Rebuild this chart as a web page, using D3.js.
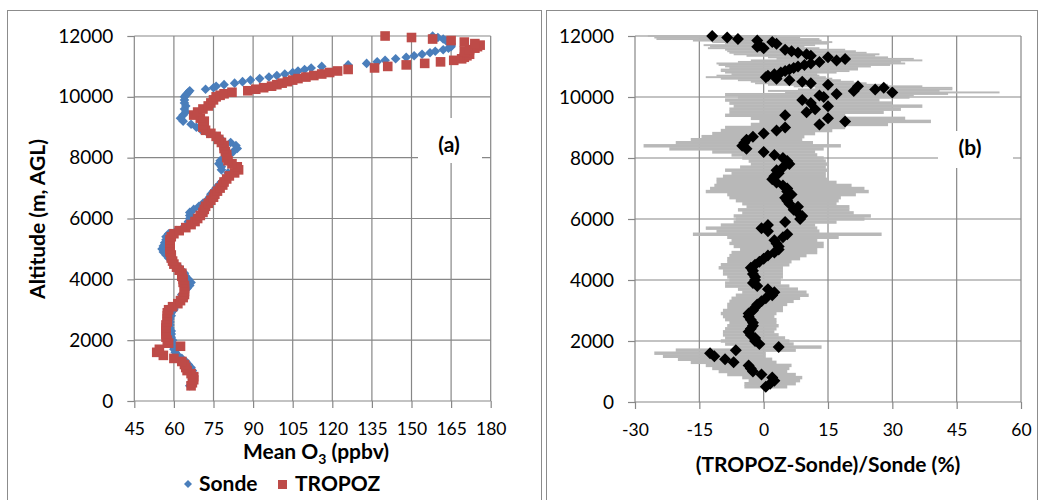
<!DOCTYPE html>
<html>
<head>
<meta charset="utf-8">
<script src="https://cdn.jsdelivr.net/npm/d3@7"></script>
<style>
  html, body { margin: 0; padding: 0; background: #fff; }
  svg { display: block; }
  text { font-family: Lato, "Open Sans", sans-serif; fill: #000; }
</style>
</head>
<body>
<svg id="chart" width="1044" height="500"></svg>
<script>
// Altitude levels (m, AGL) shared by all profiles
const altitude = [
  500, 600, 700, 800, 900, 1000, 1100, 1200, 1300, 1400,
  1500, 1600, 1700, 1800, 1900, 2000, 2100, 2200, 2300, 2400,
  2500, 2600, 2700, 2800, 2900, 3000, 3100, 3200, 3300, 3400,
  3500, 3600, 3700, 3800, 3900, 4000, 4100, 4200, 4300, 4400,
  4500, 4600, 4700, 4800, 4900, 5000, 5100, 5200, 5300, 5400,
  5500, 5600, 5700, 5800, 5900, 6000, 6100, 6200, 6300, 6400,
  6500, 6600, 6700, 6800, 6900, 7000, 7100, 7200, 7300, 7400,
  7500, 7600, 7700, 7800, 7900, 8000, 8100, 8200, 8300, 8400,
  8500, 8600, 8700, 8800, 8900, 9000, 9100, 9200, 9300, 9400,
  9500, 9600, 9700, 9800, 9900, 10000,
  10050, 10100, 10150, 10200, 10250, 10300, 10350, 10400, 10450, 10500,
  10550, 10600, 10650, 10700, 10750, 10800, 10850, 10900, 10950, 11000,
  11050, 11100, 11150, 11200, 11250, 11300, 11350, 11400, 11450, 11500,
  11550, 11600, 11650, 11700, 11750, 11800, 11850, 11900, 11950, 12000
];

// Mean ozonesonde O3 (ppbv)
const sondeO3 = [
  66, 66.5, 67, 67.5, 67.5, 67, 66.5, 65.5, 64.5, 63,
  61.5, 60.5, 60, 59.5, 59.5, 59.5, 59, 59, 59, 58.5,
  58.5, 58.5, 58.5, 59, 59, 60, 60.5, 61.5, 62, 62.5,
  63, 64, 65, 66, 66.5, 65.5, 64.5, 64, 63, 62,
  60.5, 59, 58, 57, 56, 55.5, 56, 56.5, 57, 57,
  58, 61, 63.5, 65, 65.5, 66, 66, 66, 67.5, 69.5,
  71, 72.5, 73.5, 74, 75, 76, 77, 78, 80, 81,
  80.5, 78, 78, 77, 77.5, 79, 81, 82.5, 84, 83.5,
  81.5, 78, 76, 73, 70.5, 68.5, 66.5, 63.5, 62.5, 63.5,
  64.5, 64, 64.5, 64, 64, 64,
  64.5, 65, 65.5, 66, 72, 75, 76, 79, 83, 86,
  89, 92.5, 96, 99, 102, 105, 107, 109.5, 112, 116,
  126, 133, 137, 140, 144, 148, 151, 154, 157, 159,
  162, 164, 165, 165, 165, 164, 163, 162, 160, 158
];

// Mean TROPOZ lidar O3 (ppbv)
const tropozO3 = [
  66.5, 67, 67.5, 67.5, 66.5, 65, 64.5, 64, 63, 60,
  56, 53.5, 54.5, 62.5, 58, 57.5, 57, 57, 57, 57,
  57, 57.5, 57.5, 57.5, 57.5, 58, 59.5, 61.5, 62.5, 63.5,
  64, 64, 64, 64, 63.5, 63.5, 63, 63, 62, 61,
  60, 59.5, 59, 59, 58.5, 58.5, 58.5, 58.5, 58.5, 59,
  60, 62, 64.5, 66.5, 68, 69, 70, 71, 71.5, 72,
  73, 74, 75, 75.5, 76.5, 77.5, 78.5, 79, 80, 81,
  83, 84.5, 84, 82, 80.5, 80, 80, 79.5, 79, 79,
  78, 77, 76, 74, 72, 71, 71, 71.5, 70, 67.5,
  69, 71, 73, 74, 75, 76,
  77.5, 79, 82, 88, 91, 94, 97, 99, 101, 103,
  105, 107, 110, 113, 116, 119, 122, 126, 136, 141,
  148, 155, 161, 166, 169, 170, 171, 172, 171, 170,
  172, 174, 175, 176, 174, 170, 165, 158, 150, 140
];

// Relative difference (TROPOZ-Sonde)/Sonde (%) and its spread (%)
const diffPct = [
  0.5, 1.5, 2.5, 2, -0.5, -2.5, -3, -3.5, -7, -9,
  -11.5, -12.5, -6.5, 3.5, -1, -2, -2, -3, -3.5, -3,
  -2.5, -2.5, -3, -3.5, -3.5, -2.5, -2, -1.5, -0.5, 0.5,
  2, 2.5, 1, -1.5, -2.5, -2, -2, -2.5, -2.5, -3,
  -2, -1, 0, 1, 2.5, 3.5, 3.5, 3, 2.5, 4.5,
  5.5, 1, -0.5, 1, 5, 8.5, 9, 8, 7, 8,
  6, 5.5, 5, 6.5, 5.5, 5.5, 4.5, 3, 2, 2.5,
  3.5, 3, 4.5, 6, 5.5, 4.5, 2.5, 0, -4, -5,
  -4.5, -4, -2.5, 0, 3, 5, 13, 19, 15, 5,
  10, 12, 15, 11, 9, 14,
  13, 17, 30, 21, 26, 28, 22, 15, 11, 9,
  6, 3, 0.5, 1, 2.5, 4, 5, 6, 7, 8,
  9.5, 11, 13, 17, 19, 15, 11, 10, 8, 6.5,
  5, 0, -1.5, -1, 3, 2, -1.5, -6, -8.5, -12
];
const diffErr = [
  5, 6, 6, 7, 8, 8, 9, 10, 10, 11,
  12, 13, 14, 10, 8, 8, 7, 6.5, 6, 6,
  6, 5.5, 6, 6, 6.5, 7, 6.5, 7, 7.5, 8,
  8.5, 7.5, 7, 7.5, 6.5, 6, 6.5, 7, 7, 7.5,
  8, 7.5, 8.5, 9, 10, 9, 10.5, 11, 10, 13,
  22, 12, 13, 11, 12, 15, 16, 13, 13, 12,
  11, 12, 13, 15, 19, 18, 16, 14, 13, 12,
  11, 12, 10, 9, 9, 9.5, 10, 12, 18, 23,
  16, 13, 12, 12, 13, 14, 16, 20, 18, 14,
  18, 20, 22, 19, 18, 20,
  22, 26, 25, 20, 18, 16, 15, 14, 13, 12,
  12, 13, 14, 12, 10, 13, 15, 16, 15, 17,
  20, 22, 19, 20, 16, 14, 15, 17, 16, 15,
  14, 13, 11, 13, 12, 14, 15, 19, 17, 15
];

// Axis tick values
const altTicks = [0, 2000, 4000, 6000, 8000, 10000, 12000];
const o3Ticks = [45, 60, 75, 90, 105, 120, 135, 150, 165, 180];
const diffTicks = [-30, -15, 0, 15, 30, 45, 60];

const seriesNames = ["Sonde", "TROPOZ"];
const seriesColors = ["#4a7ebb", "#be4b48"];
const gridColor = "#878787";

const svg = d3.select("#chart");

// Panel frames
svg.append("rect").attr("x", 7.5).attr("y", 10.5).attr("width", 534).attr("height", 500)
  .attr("fill", "none").attr("stroke", "#8c8c8c");
svg.append("rect").attr("x", 546.5).attr("y", 10.5).attr("width", 491).attr("height", 500)
  .attr("fill", "none").attr("stroke", "#8c8c8c");

// Draws gridlines, tick marks and tick labels for one panel
function drawFrame(g, x, y, xTicks, yTicks) {
  const [x0, x1] = x.range();
  const [y0, y1] = y.range();
  g.append("g").selectAll("line").data(xTicks).join("line")
    .attr("x1", d => x(d)).attr("x2", d => x(d))
    .attr("y1", y1).attr("y2", y0)
    .attr("stroke", gridColor).attr("stroke-width", 1.2);
  g.append("g").selectAll("line").data(yTicks).join("line")
    .attr("x1", x0).attr("x2", x1)
    .attr("y1", d => y(d)).attr("y2", d => y(d))
    .attr("stroke", gridColor).attr("stroke-width", 1.2);

  const fmt = d => String(d);
  const yAxis = g.append("g").attr("transform", `translate(${x0},0)`)
    .call(d3.axisLeft(y).tickValues(yTicks).tickSize(7).tickPadding(14).tickFormat(fmt));
  const xAxis = g.append("g").attr("transform", `translate(0,${y0})`)
    .call(d3.axisBottom(x).tickValues(xTicks).tickSize(7).tickPadding(15).tickFormat(fmt));
  yAxis.selectAll(".tick text").attr("font-size", 19);
  xAxis.selectAll(".tick text").attr("font-size", 17.5);
  [yAxis, xAxis].forEach(a => {
    a.select(".domain").remove();
    a.selectAll(".tick line").attr("stroke", gridColor).attr("stroke-width", 1.2);
    a.selectAll(".tick text").attr("font-family", "Lato, sans-serif").attr("fill", "#000");
  });
}

function diamondPath(r) {
  return `M0,${-r}L${r},0L0,${r}L${-r},0Z`;
}

// ---------- Panel (a): mean O3 profiles ----------
const xA = d3.scaleLinear().domain([45, 180]).range([134.3, 490.7]);
const yA = d3.scaleLinear().domain([0, 12000]).range([401, 36]);
const gA = svg.append("g");
drawFrame(gA, xA, yA, o3Ticks, altTicks);

// white label box
gA.append("rect").attr("x", 418).attr("y", 118).attr("width", 64).attr("height", 45).attr("fill", "#fff");
gA.append("text").attr("x", 449).attr("y", 152).attr("text-anchor", "middle")
  .attr("font-family", "'Liberation Serif', 'Times New Roman', serif").attr("font-weight", "bold")
  .attr("font-size", 21).text("(a)");

const sondePts = altitude.map((a, i) => ({ alt: a, v: sondeO3[i] }));
const tropozPts = altitude.map((a, i) => ({ alt: a, v: tropozO3[i] }));

gA.append("g").selectAll("path").data(sondePts).join("path")
  .attr("d", diamondPath(4.8))
  .attr("transform", d => `translate(${xA(d.v)},${yA(d.alt)})`)
  .attr("fill", seriesColors[0]);
gA.append("g").selectAll("rect").data(tropozPts).join("rect")
  .attr("x", d => xA(d.v) - 4.8).attr("y", d => yA(d.alt) - 4.8)
  .attr("width", 9.6).attr("height", 9.6)
  .attr("fill", seriesColors[1]);

// axis titles
gA.append("text")
  .attr("transform", "translate(45,219) rotate(-90)")
  .attr("text-anchor", "middle").attr("font-weight", "bold").attr("font-size", 21)
  .text("Altitude (m, AGL)");
const tA = gA.append("text").attr("x", 316).attr("y", 459).attr("text-anchor", "middle")
  .attr("font-weight", "bold").attr("font-size", 21);
tA.append("tspan").text("Mean O");
tA.append("tspan").attr("font-size", 14).attr("dy", 5).text("3");
tA.append("tspan").attr("dy", -5).text(" (ppbv)");

// legend
const leg = gA.append("g");
leg.append("path").attr("d", diamondPath(4)).attr("transform", "translate(188,484)").attr("fill", seriesColors[0]);
leg.append("text").attr("x", 199).attr("y", 491).attr("font-weight", "bold").attr("font-size", 21).text(seriesNames[0]);
leg.append("rect").attr("x", 278).attr("y", 480).attr("width", 9).attr("height", 9).attr("fill", seriesColors[1]);
leg.append("text").attr("x", 295).attr("y", 491).attr("font-weight", "bold").attr("font-size", 21).text(seriesNames[1]);

// ---------- Panel (b): relative difference ----------
const xB = d3.scaleLinear().domain([-30, 60]).range([635, 1021]);
const yB = d3.scaleLinear().domain([0, 12000]).range([402, 36]);
const gB = svg.append("g");
drawFrame(gB, xB, yB, diffTicks, altTicks);

gB.append("rect").attr("x", 938).attr("y", 131).attr("width", 75).attr("height", 37).attr("fill", "#fff");
gB.append("text").attr("x", 970).attr("y", 155).attr("text-anchor", "middle")
  .attr("font-family", "'Liberation Serif', 'Times New Roman', serif").attr("font-weight", "bold")
  .attr("font-size", 21).text("(b)");

const diffPts = altitude.map((a, i) => ({
  alt: a, v: diffPct[i], e: diffErr[i],
  h: Math.abs(yB(a) - yB(i > 0 ? altitude[i - 1] : a - 100)) + 0.4
}));

// horizontal spread bars
gB.append("g").selectAll("rect").data(diffPts).join("rect")
  .attr("x", d => xB(d.v - d.e)).attr("width", d => xB(d.v + d.e) - xB(d.v - d.e))
  .attr("y", d => yB(d.alt) - d.h / 2).attr("height", d => d.h)
  .attr("fill", "#b8b8b8");

gB.append("g").selectAll("path").data(diffPts).join("path")
  .attr("d", diamondPath(6))
  .attr("transform", d => `translate(${xB(d.v)},${yB(d.alt)})`)
  .attr("fill", "#000");

gB.append("text").attr("x", 828).attr("y", 472).attr("text-anchor", "middle")
  .attr("font-weight", "bold").attr("font-size", 21)
  .text("(TROPOZ-Sonde)/Sonde (%)");
</script>
</body>
</html>
